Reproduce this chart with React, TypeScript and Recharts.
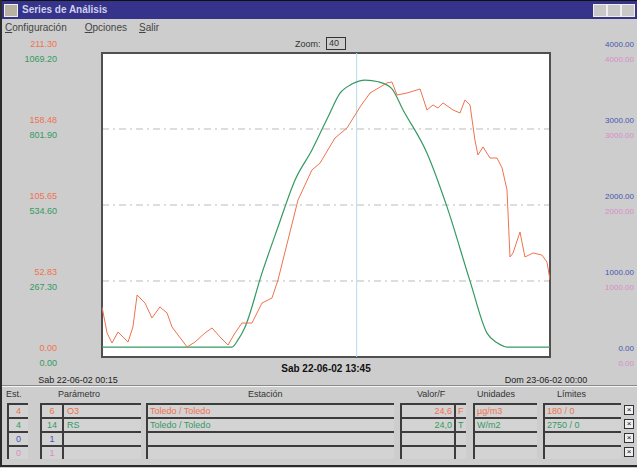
import { LineChart, Line, XAxis, YAxis, CartesianGrid, ReferenceLine, ReferenceArea } from "recharts";

// O3 (left red scale) - hours of day vs µg/m3
const o3Hours = [
  0.25, 0.52, 0.78, 1.1, 1.36, 1.63, 1.89, 2.11, 2.53, 2.9, 3.32, 3.7, 3.96, 4.28, 4.76, 5.18, 5.71, 6.08, 6.51,
  6.93, 7.3, 7.67, 8.2, 8.73, 9.26, 9.58, 10.11, 10.64, 11.38, 11.81, 12.6, 13.24, 13.93, 14.46, 15.36, 15.62,
  15.89, 16.42, 17.11, 17.48, 17.8, 18.06, 18.33, 18.86, 19.23, 19.49, 19.76, 20.02, 20.18, 20.45, 20.82, 21.19,
  21.46, 21.72, 21.88, 22.04, 22.41, 22.67, 23.1, 23.57, 23.84, 24.0,
];
const o3Values = [
  34.8, 16.7, 9.7, 17.4, 13.9, 10.4, 20.9, 43.1, 37.5, 27.1, 34.8, 30.6, 20.9, 15.3, 7.0, 10.4, 16.7, 20.2, 13.9,
  8.3, 16.7, 23.6, 23.6, 37.5, 41.0, 53.5, 81.3, 109.1, 130.0, 134.8, 152.2, 159.2, 173.8, 183.5, 190.5, 191.2,
  182.1, 183.5, 186.3, 171.7, 175.2, 173.1, 176.6, 171.7, 169.6, 178.6, 175.2, 150.8, 140.4, 146.0, 138.3, 138.3,
  131.4, 116.1, 69.5, 72.3, 86.9, 69.5, 72.3, 70.9, 66.0, 53.5,
];

// RS (solar radiation, green scale) W/m2
const rsHours = [0.25, 7.14, 7.46, 7.83, 8.73, 9.58, 10.48, 11.38, 12.23, 12.87, 13.5, 14.2, 14.9, 15.6, 16.21, 17.48, 18.54, 19.76, 20.66, 21.2, 21.72, 24.0];
const rsValues = [35, 35, 60, 105, 295, 457, 622, 728, 844, 928, 960, 974, 968, 945, 869, 717, 528, 267, 84, 50, 35, 35];

const o3Ticks = [0, 52.83, 105.65, 158.48, 211.3];
const o3Labels = ["0.00", "52.83", "105.65", "158.48", "211.30"];
const rsLabels = ["0.00", "267.30", "534.60", "801.90", "1069.20"];
const auxLabels = ["0.00", "1000.00", "2000.00", "3000.00", "4000.00"];
const timeTicks = [0.25, 24];
const timeLabels = ["Sab 22-06-02 00:15", "Dom 23-06-02 00:00"];
const cursorHour = 13.75;
const cursorLabel = "Sab 22-06-02 13:45";

const estValues = ["4", "4", "0", "0"];
const paramNums = ["6", "14", "1", "1"];
const paramNames = ["O3", "RS", "", ""];
const stations = ["Toledo / Toledo", "Toledo / Toledo", "", ""];
const readings = ["24,6", "24,0", "", ""];
const flags = ["F", "T", "", ""];
const units = ["µg/m3", "W/m2", "", ""];
const limits = ["180 / 0", "2750 / 0", "", ""];

const RED = "#f0724e";
const GREEN = "#349a62";
const BLUE = "#4654b4";
const PINK = "#d88cc8";
const rowColors = [RED, GREEN, BLUE, PINK];

const o3Data = o3Hours.map((h, i) => ({ h, v: o3Values[i] }));
const rsData = rsHours.map((h, i) => ({ h, v: rsValues[i] }));

const FONT = '"Liberation Sans", Arial, sans-serif';

const ScaleTick = (props: any) => {
  const { y, index } = props;
  return (
    <g fontFamily={FONT}>
      <text x={57} y={y - 6} textAnchor="end" fill={RED} fontSize={9}>{o3Labels[index]}</text>
      <text x={57} y={y + 9} textAnchor="end" fill={GREEN} fontSize={9}>{rsLabels[index]}</text>
      <text x={634} y={y - 6} textAnchor="end" fill={BLUE} fontSize={8}>{auxLabels[index]}</text>
      <text x={634} y={y + 9} textAnchor="end" fill={PINK} fontSize={8}>{auxLabels[index]}</text>
    </g>
  );
};

const TimeTick = (props: any) => {
  const { x, y, index } = props;
  return (
    <text x={x + (index === 0 ? -24 : -4)} y={y + 18} textAnchor="middle" fontSize={9} fontFamily={FONT} fill="#222">
      {timeLabels[index]}
    </text>
  );
};

const cell = (left: number, width: number, top: number): React.CSSProperties => ({
  position: "absolute",
  left,
  top,
  width,
  height: 12,
  borderTop: "2px solid #3c3c3c",
  borderLeft: "2px solid #3c3c3c",
  background: "#d3d3d3",
  fontSize: 9,
  lineHeight: "12px",
  overflow: "hidden",
  whiteSpace: "nowrap",
});

const App = () => {
  return (
    <div
      style={{
        position: "absolute",
        left: 0,
        top: 0,
        width: 637,
        height: 468,
        overflow: "hidden",
        background: "#cdcdcd",
        fontFamily: FONT,
      }}
    >
      {/* title bar */}
      <div style={{ position: "absolute", left: 0, top: 0, width: 637, height: 18, background: "#35338a", borderTop: "1px solid #111" }}>
        <div style={{ position: "absolute", left: 4, top: 3, width: 12, height: 11, background: "#b8b0a0", border: "1px solid #eee" }} />
        <div style={{ position: "absolute", left: 22, top: 3, color: "#d0d0ec", fontSize: 10, fontWeight: "bold" }}>Series de Análisis</div>
        {[593, 607, 621].map((l) => (
          <div key={l} style={{ position: "absolute", left: l, top: 3, width: 12, height: 11, background: "#c8c8c8", border: "1px solid #eee" }} />
        ))}
      </div>
      {/* menu */}
      <div style={{ position: "absolute", left: 5, top: 22, fontSize: 10, color: "#444" }}>
        <span><u>C</u>onfiguración</span>
        <span style={{ marginLeft: 18 }}><u>O</u>pciones</span>
        <span style={{ marginLeft: 12 }}><u>S</u>alir</span>
      </div>
      {/* zoom */}
      <div style={{ position: "absolute", left: 295, top: 39, fontSize: 9, color: "#333" }}>Zoom:</div>
      <div style={{ position: "absolute", left: 326, top: 37, width: 16, height: 11, border: "1px solid #333", fontSize: 9, lineHeight: "11px", paddingLeft: 2, color: "#333" }}>40</div>

      <div style={{ position: "absolute", left: 0, top: 0 }}>
        <LineChart width={660} height={400} margin={{ top: 53, right: 110, bottom: 0, left: 0 }}>
          <CartesianGrid yAxisId="o3" vertical={false} fill="#ffffff" stroke="#bcbcbc" strokeDasharray="7 4 2 4" />
          <XAxis
            type="number"
            dataKey="h"
            domain={[0.25, 24]}
            ticks={timeTicks}
            height={43}
            axisLine={false}
            tickLine={false}
            tick={<TimeTick />}
            allowDataOverflow
            label={{ value: cursorLabel, position: "insideTop", offset: 8, fontSize: 10, fontWeight: "bold", fill: "#111", fontFamily: FONT }}
          />
          <YAxis
            yAxisId="o3"
            type="number"
            domain={[0, 211.3]}
            ticks={o3Ticks}
            width={102}
            axisLine={false}
            tickLine={false}
            tick={<ScaleTick />}
          />
          <YAxis yAxisId="rs" type="number" domain={[0, 1069.2]} hide />
          <ReferenceLine yAxisId="o3" x={cursorHour} stroke="#b4dcea" strokeWidth={1} />
          <Line yAxisId="rs" data={rsData} dataKey="v" type="monotone" stroke={GREEN} strokeWidth={1.2} dot={false} isAnimationActive={false} />
          <Line yAxisId="o3" data={o3Data} dataKey="v" type="linear" stroke={RED} strokeWidth={1} dot={false} isAnimationActive={false} />
          <ReferenceArea yAxisId="o3" x1={0.25} x2={24} y1={0} y2={211.3} fill="none" fillOpacity={0} stroke="#505050" strokeWidth={2} ifOverflow="visible" />
        </LineChart>
      </div>

      {/* table */}
      <div style={{ position: "absolute", left: 0, top: 385, width: 637, height: 0, borderTop: "1px solid #8a8a8a", borderBottom: "1px solid #f4f4f4" }} />
      <div style={{ position: "absolute", top: 389, left: 6, fontSize: 9, color: "#333" }}>Est.</div>
      <div style={{ position: "absolute", top: 389, left: 58, fontSize: 9, color: "#333" }}>Parámetro</div>
      <div style={{ position: "absolute", top: 389, left: 248, fontSize: 9, color: "#333" }}>Estación</div>
      <div style={{ position: "absolute", top: 389, left: 417, fontSize: 9, color: "#333" }}>Valor/F</div>
      <div style={{ position: "absolute", top: 389, left: 477, fontSize: 9, color: "#333" }}>Unidades</div>
      <div style={{ position: "absolute", top: 389, left: 557, fontSize: 9, color: "#333" }}>Límites</div>
      {estValues.map((e, i) => {
        const top = 403 + i * 14;
        const c = rowColors[i];
        return (
          <div key={i} style={{ color: c }}>
            <div style={{ ...cell(7, 19, top), textAlign: "center" }}>{e}</div>
            <div style={{ ...cell(40, 20, top), textAlign: "center" }}>{paramNums[i]}</div>
            <div style={{ ...cell(62, 74, top), paddingLeft: 3 }}>{paramNames[i]}</div>
            <div style={{ ...cell(146, 244, top), paddingLeft: 2 }}>{stations[i]}</div>
            <div style={{ ...cell(400, 50, top), textAlign: "right", paddingRight: 2 }}>{readings[i]}</div>
            <div style={{ ...cell(454, 8, top), paddingLeft: 2 }}>{flags[i]}</div>
            <div style={{ ...cell(473, 60, top), paddingLeft: 2 }}>{units[i]}</div>
            <div style={{ ...cell(543, 74, top), paddingLeft: 2 }}>{limits[i]}</div>
            <div style={{ position: "absolute", left: 624, top: top + 2, width: 8, height: 8, border: "1px solid #333", background: "#eee", fontSize: 8, lineHeight: "8px", color: "#111", textAlign: "center" }}>×</div>
          </div>
        );
      })}
      {/* window frame */}
      <div style={{ position: "absolute", left: 0, top: 0, width: 640, height: 465, borderLeft: "2px solid #2a2a2a", borderBottom: "2px solid #2a2a2a", pointerEvents: "none" }} />
    </div>
  );
};

export default App;
